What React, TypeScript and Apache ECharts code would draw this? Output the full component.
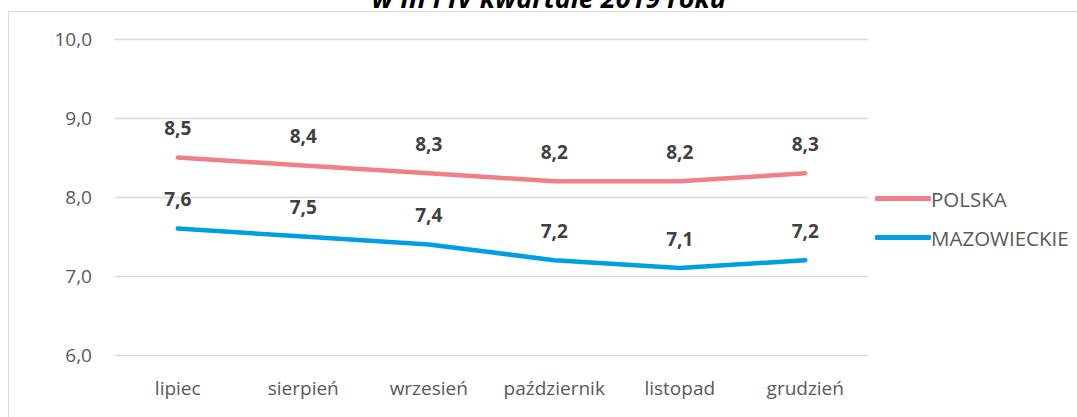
import React, { useEffect, useRef } from "react";
import * as echarts from "echarts";

const categories = ["lipiec", "sierpień", "wrzesień", "październik", "listopad", "grudzień"];
const polska = [8.5, 8.4, 8.3, 8.2, 8.2, 8.3];
const mazowieckie = [7.6, 7.5, 7.4, 7.2, 7.1, 7.2];
const seriesNames = ["POLSKA", "MAZOWIECKIE"];
const titleText = "w III i IV kwartale 2019 roku";

const FONT = "'Open Sans', 'Liberation Sans', sans-serif";
const fmt = (v: number) => v.toFixed(1).replace(".", ",");

export default function App() {
  const ref = useRef<HTMLDivElement>(null);
  useEffect(() => {
    if (!ref.current) return;
    const chart = echarts.init(ref.current, undefined, { renderer: "svg" });
    const label = {
      show: true,
      position: "top" as const,
      distance: 20,
      fontFamily: FONT,
      fontSize: 19,
      fontWeight: "bold" as const,
      color: "#404040",
      formatter: (p: any) => fmt(p.value),
    };
    chart.setOption({
      animation: false,
      backgroundColor: "#ffffff",
      textStyle: { fontFamily: FONT },
      graphic: [
        {
          type: "rect",
          shape: { x: 8.5, y: 11.5, width: 1200, height: 600 },
          style: { fill: "none", stroke: "#d9d9d9", lineWidth: 1 },
          silent: true,
        },
        {
          type: "text",
          x: 549,
          y: 11,
          style: {
            text: titleText,
            font: "italic bold 27px " + FONT,
            fill: "#000000",
            align: "center",
            verticalAlign: "bottom",
          },
        },
      ],
      grid: { left: 115, right: 209, top: 39, bottom: 62, containLabel: false },
      legend: {
        orient: "vertical",
        left: 870,
        top: 183,
        itemWidth: 56,
        itemHeight: 5,
        itemGap: 18,
        icon: "roundRect",
        data: seriesNames,
        textStyle: { fontFamily: FONT, fontSize: 20.5, color: "#595959", padding: [0, 0, 0, -5] },
      },
      xAxis: {
        type: "category",
        data: categories,
        boundaryGap: true,
        axisLine: { show: false },
        axisTick: { show: false },
        axisLabel: { fontFamily: FONT, fontSize: 19, color: "#595959", margin: 23, interval: 0 },
      },
      yAxis: {
        type: "value",
        min: 6,
        max: 10,
        interval: 1,
        axisLine: { show: false },
        axisTick: { show: false },
        splitLine: { lineStyle: { color: "#d9d9d9", width: 1.3 } },
        axisLabel: {
          fontFamily: FONT,
          fontSize: 19,
          color: "#595959",
          margin: 23,
          formatter: (v: number) => fmt(v),
        },
      },
      series: [
        {
          name: seriesNames[0],
          type: "line",
          data: polska,
          symbol: "circle",
          symbolSize: 0,
          showSymbol: true,
          lineStyle: { color: "#F07F87", width: 4.5, cap: "round" },
          itemStyle: { color: "#F07F87" },
          label,
        },
        {
          name: seriesNames[1],
          type: "line",
          data: mazowieckie,
          symbol: "circle",
          symbolSize: 0,
          showSymbol: true,
          lineStyle: { color: "#009FE3", width: 4.5, cap: "round" },
          itemStyle: { color: "#009FE3" },
          label,
        },
      ],
    });
    return () => chart.dispose();
  }, []);
  return (
    <div
      ref={ref}
      style={{ position: "fixed", left: 0, top: 0, width: 1077, height: 417 }}
    />
  );
}
